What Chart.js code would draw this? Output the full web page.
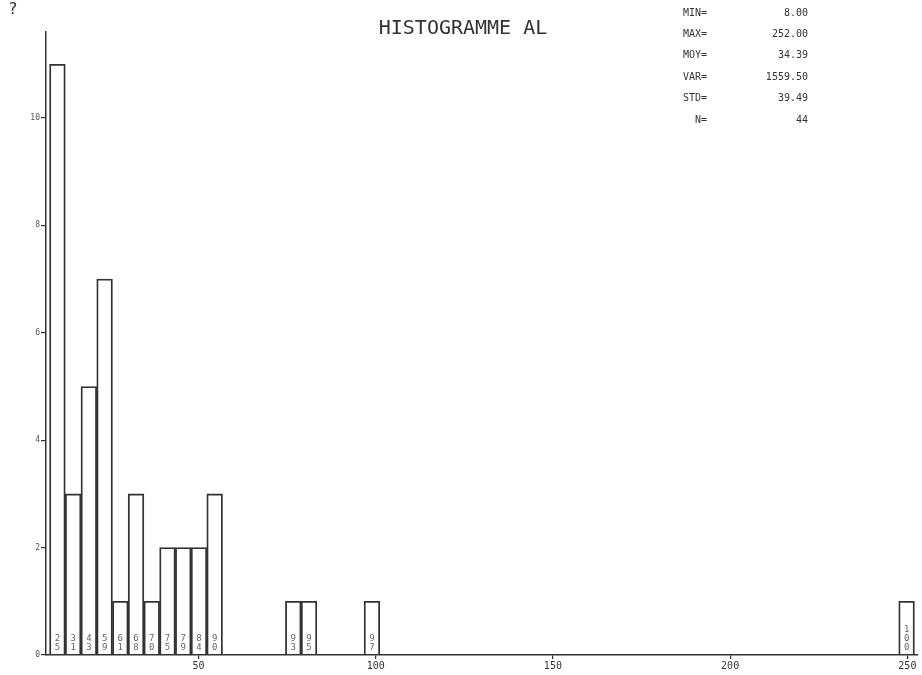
<!DOCTYPE html>
<html>
<head>
<meta charset="utf-8">
<script src="https://cdn.jsdelivr.net/npm/chart.js@4/dist/chart.umd.min.js"></script>
<style>
  html, body { margin: 0; padding: 0; background: #fff; }
  #wrap { width: 922px; height: 675px; }
</style>
</head>
<body>
<div id="wrap"><canvas id="chart" width="922" height="675"></canvas></div>
<script>
// histogram bins that hold at least one value (centre of bin, count)
const binMid = [10.22, 14.65, 19.09, 23.53, 27.96, 32.40, 36.84, 41.27, 45.71, 50.15, 54.58, 76.76, 81.20, 98.95, 249.78];
const binCount = [11, 3, 5, 7, 1, 3, 1, 2, 2, 2, 3, 1, 1, 1, 1];
// cumulative percentage written inside each bar
const binPct = ['25', '31', '43', '59', '61', '68', '70', '75', '79', '84', '90', '93', '95', '97', '100'];

const xTicks = [50, 100, 150, 200, 250];
const yTicks = [0, 2, 4, 6, 8, 10];

const statLabels = ['MIN=', 'MAX=', 'MOY=', 'VAR=', 'STD=', 'N='];
const statValues = ['8.00', '252.00', '34.39', '1559.50', '39.49', '44'];

const ink = '#333';
const mono = '"DejaVu Sans Mono", "Liberation Mono", monospace';

const decorations = {
  id: 'decorations',
  afterDatasetsDraw(chart) {
    const ctx = chart.ctx;
    const meta = chart.getDatasetMeta(0);
    const base = chart.scales.y.getPixelForValue(0);
    ctx.save();
    ctx.fillStyle = '#666';
    ctx.font = '9px ' + mono;
    ctx.textAlign = 'center';
    ctx.textBaseline = 'middle';
    meta.data.forEach((bar, i) => {
      const digits = binPct[i].split('');
      digits.forEach((d, j) => {
        ctx.fillText(d, bar.x, base - 7 - (digits.length - 1 - j) * 9);
      });
    });
    ctx.restore();
  },
  afterDraw(chart) {
    const ctx = chart.ctx;
    ctx.save();
    ctx.fillStyle = ink;
    ctx.textBaseline = 'middle';

    ctx.font = '16px ' + mono;
    ctx.textAlign = 'left';
    ctx.fillText('?', 8, 10);

    ctx.font = '20px ' + mono;
    ctx.textAlign = 'center';
    ctx.fillText('HISTOGRAMME AL', 463, 29);

    ctx.font = '10px ' + mono;
    statLabels.forEach((lab, i) => {
      const y = 13 + i * 21.4;
      ctx.textAlign = 'right';
      ctx.fillText(lab, 707, y);
      ctx.fillText(statValues[i], 808, y);
    });
    ctx.restore();
  }
};

new Chart(document.getElementById('chart'), {
  type: 'bar',
  data: {
    datasets: [{
      label: 'AL',
      data: binMid.map((x, i) => ({ x: x, y: binCount[i] })),
      backgroundColor: 'rgba(255,255,255,0)',
      borderColor: ink,
      borderWidth: 1.2,
      borderSkipped: 'start',
      barPercentage: 1,
      categoryPercentage: 1
    }]
  },
  options: {
    responsive: false,
    animation: false,
    layout: { padding: { top: 32, right: 4, left: 0, bottom: 0 } },
    plugins: {
      legend: { display: false },
      tooltip: { enabled: false }
    },
    scales: {
      x: {
        type: 'linear',
        offset: false,
        min: 7,
        max: 253,
        afterBuildTicks: s => { s.ticks = xTicks.map(v => ({ value: v })); },
        afterFit: s => { s.height = 20; },
        grid: { offset: false, drawOnChartArea: false, tickLength: 4, color: ink, lineWidth: 1.2 },
        border: { display: true, color: ink, width: 1.5 },
        ticks: {
          font: { family: mono, size: 10 },
          color: ink,
          padding: 1,
          maxRotation: 0
        }
      },
      y: {
        min: 0,
        max: 11.6,
        afterBuildTicks: s => { s.ticks = yTicks.map(v => ({ value: v })); },
        afterFit: s => { s.width = 46; },
        grid: { drawOnChartArea: false, tickLength: 5, color: ink, lineWidth: 1.2 },
        border: { display: true, color: ink, width: 1.5 },
        ticks: {
          font: { family: mono, size: 8 },
          color: '#555',
          padding: 1
        }
      }
    }
  },
  plugins: [decorations]
});
</script>
</body>
</html>
